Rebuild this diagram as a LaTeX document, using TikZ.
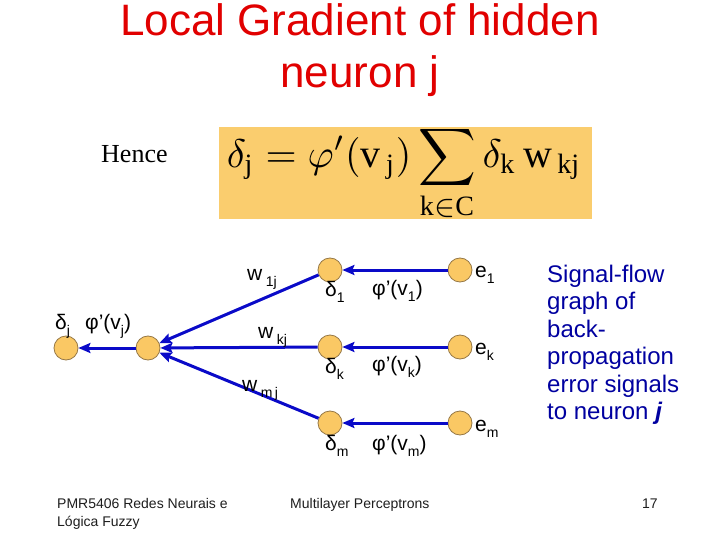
\documentclass[tikz,border=0pt]{standalone}
\usepackage{amsmath}
\usepackage{fontspec}
\setmainfont{Liberation Sans}
\newfontfamily\timesf{Liberation Serif}
\usetikzlibrary{arrows.meta}
\definecolor{titlered}{RGB}{225,0,0}
\definecolor{flowblue}{RGB}{10,10,200}
\definecolor{navytext}{RGB}{0,0,160}
\definecolor{nodefill}{RGB}{250,200,100}
\definecolor{nodeline}{RGB}{150,120,70}
\definecolor{boxfill}{RGB}{250,205,110}
\definecolor{foottext}{RGB}{30,30,30}
\newcommand{\sbs}[1]{\raisebox{-0.3em}{\fontsize{14}{14}\selectfont #1}}
\newcommand{\tmr}[1]{\text{\timesf #1}}
\begin{document}
\begin{tikzpicture}[x=1pt,y=-1pt,
  neuron/.style={circle,fill=nodefill,draw=nodeline,line width=0.8pt,minimum size=24pt,inner sep=0pt},
  flow/.style={draw=flowblue,line width=3pt,-{Stealth[length=12pt,width=10pt,inset=2pt]}},
  lab/.style={font=\fontsize{21}{21}\selectfont,inner sep=0pt},
  titletext/.style={font=\fontsize{44}{44}\selectfont,text=titlered,inner sep=0pt,anchor=base},
  sidetext/.style={font=\fontsize{24}{24}\selectfont,text=navytext,inner sep=0pt,anchor=base west},
  foot/.style={font=\fontsize{14}{14}\selectfont,text=foottext,inner sep=0pt,anchor=base west}]
\useasboundingbox[fill=white] (0,0) rectangle (720,540);

% title
\node[titletext] (t1) at (360,36) {Local Gradient of hidden};
\node[titletext] (t2) at (360,88) {neuron j};

% Hence + formula box
\node[anchor=base west,inner sep=0pt,font=\timesf\fontsize{26}{26}\selectfont] (hence) at (101,163) {Hence};
\node[fill=boxfill,minimum width=373pt,minimum height=92pt,inner sep=0pt,anchor=north west] (box) at (219,127) {};
\node[inner sep=0pt] (formula) at (404,174)
  {\scalebox{4}{$\displaystyle \delta_{\tmr{j}} = \varphi'(\tmr{v}_{\,\tmr{j}})\sum_{\tmr{k}\in \tmr{C}}\delta_{\tmr{k}}\,\tmr{w}_{\,\tmr{kj}}$}};

% neurons
\node[neuron] (dj) at (66,348) {};
\node[neuron] (mid) at (148,348) {};
\node[neuron] (d1) at (330,270) {};
\node[neuron] (dk) at (330,347) {};
\node[neuron] (dm) at (330,423) {};
\node[neuron] (e1) at (460,270) {};
\node[neuron] (ek) at (460,347) {};
\node[neuron] (em) at (460,423) {};

% connectors
\draw[flow] (e1) -- (d1);
\draw[flow] (ek) -- (dk);
\draw[flow] (em) -- (dm);
\draw[flow] (d1) -- (mid);
\draw[flow] (dk) -- (mid);
\draw[flow] (dm) -- (mid);
\draw[flow] (mid) -- (dj);

% labels
\node[lab,anchor=base west] (ldj) at (55,329) {δ\sbs{j}};
\node[lab,anchor=base west] (lphij) at (85,329) {φ’(v\sbs{j})};
\node[lab,anchor=base west] (lw1) at (247,280) {w\,\sbs{1j}};
\node[lab,anchor=base west] (lwk) at (258,338) {w\,\sbs{kj}};
\node[lab,anchor=base west] (lwm) at (242,391) {w\,\sbs{m\,j}};
\node[lab,anchor=base west] (ld1) at (325,296) {δ\sbs{1}};
\node[lab,anchor=base west] (ldk) at (325,373) {δ\sbs{k}};
\node[lab,anchor=base west] (ldm) at (325,450) {δ\sbs{m}};
\node[lab,anchor=base west] (lp1) at (372,295) {φ’(v\sbs{1})};
\node[lab,anchor=base west] (lpk) at (372,371) {φ’(v\sbs{k})};
\node[lab,anchor=base west] (lpm) at (372,450) {φ’(v\sbs{m})};
\node[lab,anchor=base west] (le1) at (475,277) {e\sbs{1}};
\node[lab,anchor=base west] (lek) at (475,354) {e\sbs{k}};
\node[lab,anchor=base west] (lem) at (475,431) {e\sbs{m}};

% side text
\node[sidetext] (s1) at (547,282) {Signal-flow};
\node[sidetext] (s2) at (547,309.5) {graph of};
\node[sidetext] (s3) at (547,337) {back-};
\node[sidetext] (s4) at (547,364.5) {propagation};
\node[sidetext] (s5) at (547,392) {error signals};
\node[sidetext] (s6) at (547,419.5) {to neuron \textbf{\textit{j}}};

% footer
\node[foot] (f1) at (57,508) {PMR5406 Redes Neurais e};
\node[foot] (f2) at (57,526) {Lógica Fuzzy};
\node[foot] (f3) at (290,508) {Multilayer Perceptrons};
\node[foot] (f4) at (642,508) {17};
\end{tikzpicture}
\end{document}
